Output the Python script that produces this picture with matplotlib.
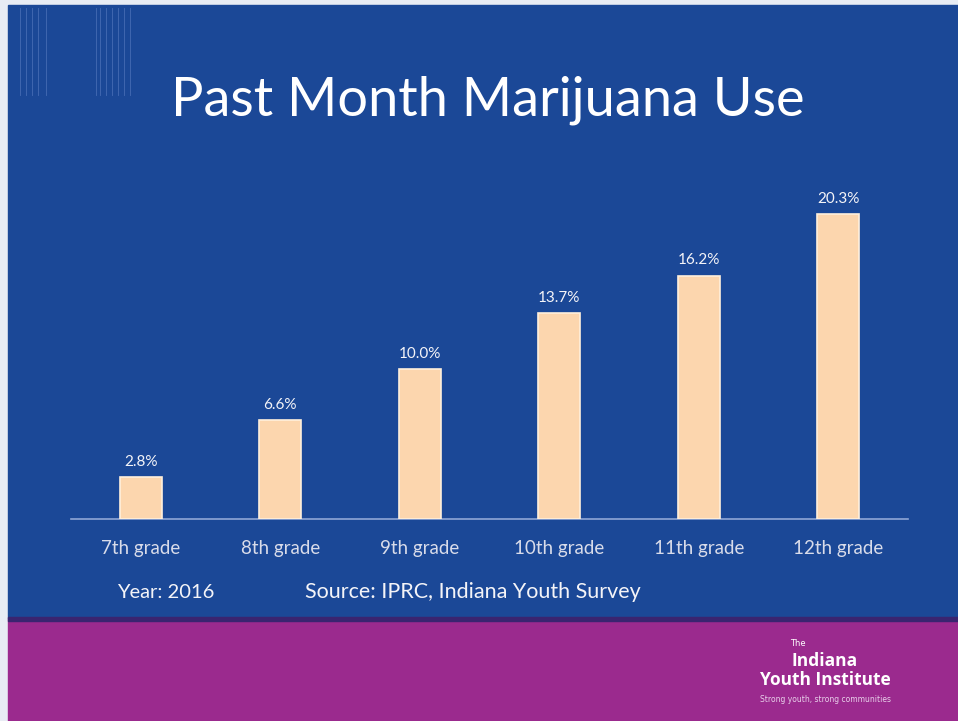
import matplotlib
matplotlib.use("Agg")
import matplotlib.pyplot as plt
import matplotlib.patches as patches

# ---------------------------------------------------------------------------
# Data
# ---------------------------------------------------------------------------
grades = ["7th grade", "8th grade", "9th grade", "10th grade", "11th grade", "12th grade"]
use_pct = [2.8, 6.6, 10.0, 13.7, 16.2, 20.3]
labels = ["2.8%", "6.6%", "10.0%", "13.7%", "16.2%", "20.3%"]

# ---------------------------------------------------------------------------
# Colours
# ---------------------------------------------------------------------------
BLUE = "#1b4897"
PURPLE = "#9b2a8e"
BAR = "#fcd6ae"
BAR_EDGE = "#fff0dc"
TEXT = "#f4f4f8"
TICK = "#d9dcea"

W, H = 958, 721
fig = plt.figure(figsize=(W / 100, H / 100), dpi=100, facecolor="#e8ecf4")

# slide background
fig.patches.append(patches.Rectangle((8 / W, 1 - 618 / H), 1 - 8 / W, (618 - 5) / H,
                                     transform=fig.transFigure, color=BLUE, zorder=-5))
fig.patches.append(patches.Rectangle((8 / W, 0), 1 - 8 / W, 1 - 618 / H,
                                     transform=fig.transFigure, color=PURPLE, zorder=-5))
fig.patches.append(patches.Rectangle((8 / W, 1 - 621 / H), 1 - 8 / W, 4 / H,
                                     transform=fig.transFigure, color="#3a2470", zorder=-5))

# faint decorative vertical lines
for x in [20, 26, 32, 38, 46, 96, 100, 106, 112, 118, 124, 130]:
    fig.add_artist(plt.Line2D([x / W, x / W], [1 - 95 / H, 1 - 8 / H],
                              transform=fig.transFigure, color="#6f8fd0", lw=0.6,
                              alpha=0.5, zorder=-4))

# ---------------------------------------------------------------------------
# Chart
# ---------------------------------------------------------------------------
ax = fig.add_axes([71 / W, 1 - 519 / H, (908 - 71) / W, (519 - 181) / H], zorder=2)
ax.set_facecolor("none")
x = range(len(grades))
bars = ax.bar(x, use_pct, width=0.3, color=BAR, edgecolor=BAR_EDGE, linewidth=1.2, zorder=3)
ax.set_xlim(-0.5, len(grades) - 0.5)
ax.set_ylim(0, 22.5)
for s in ["top", "right", "left"]:
    ax.spines[s].set_visible(False)
ax.spines["bottom"].set_color("#8fa6d6")
ax.spines["bottom"].set_linewidth(1.2)
ax.set_yticks([])
ax.set_xticks(list(x))
ax.set_xticklabels(grades, fontsize=13.5, color=TICK, family="Lato")
ax.tick_params(axis="x", length=0, pad=15)

for xi, v, lab in zip(x, use_pct, labels):
    ax.text(xi, v + 0.55, lab, ha="center", va="bottom", fontsize=11,
            color=TEXT, family="Lato")

# title and notes
fig.text(488 / W, 1 - 100 / H, "Past Month Marijuana Use", ha="center", va="center",
         fontsize=39, color="white", family="Lato")
fig.text(117 / W, 1 - 592 / H, "Year: 2016", ha="left", va="center",
         fontsize=14.5, color=TEXT, family="Lato")
fig.text(305 / W, 1 - 592 / H, "Source: IPRC, Indiana Youth Survey", ha="left", va="center",
         fontsize=15.5, color=TEXT, family="Lato")

# logo text in the purple band
fig.text(790 / W, 1 - 644 / H, "The", ha="left", va="center", fontsize=6, color="white")
fig.text(825 / W, 1 - 661 / H, "Indiana", ha="center", va="center", fontsize=12.5,
         color="white", fontweight="bold", family="Open Sans")
fig.text(825 / W, 1 - 680 / H, "Youth Institute", ha="center", va="center", fontsize=12.5,
         color="white", fontweight="bold", family="Open Sans")
fig.text(825 / W, 1 - 699 / H, "Strong youth, strong communities", ha="center", va="center",
         fontsize=5.5, color="#e8d0ea")

fig.savefig("out.png", dpi=100, facecolor=fig.get_facecolor())
